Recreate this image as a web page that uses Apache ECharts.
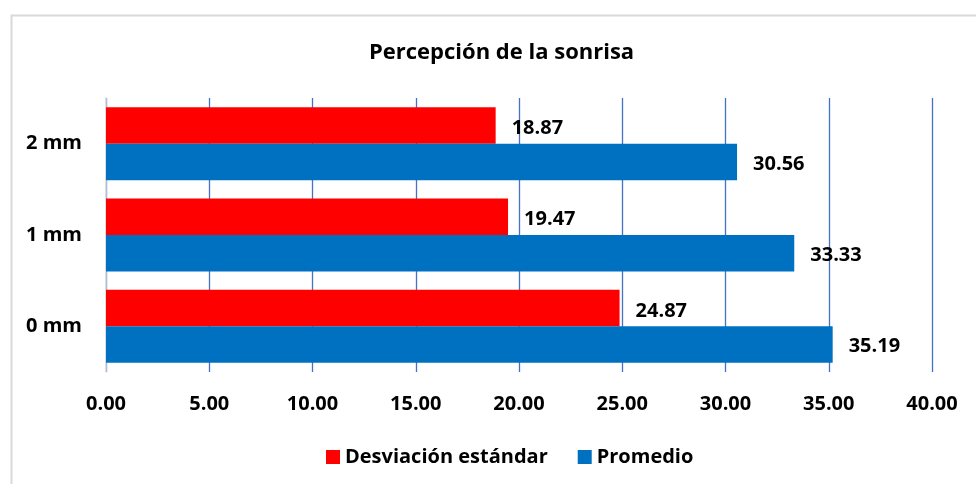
<!DOCTYPE html>
<html><head><meta charset="utf-8">
<script src="https://cdn.jsdelivr.net/npm/echarts@6/dist/echarts.min.js"></script>
<style>html,body{margin:0;padding:0;background:#fff}#c{width:976px;height:484px}</style>
</head><body><div id="c"></div>
<script>
const categories = ['0 mm', '1 mm', '2 mm'];
const desviacion = [24.87, 19.47, 18.87];
const promedio = [35.19, 33.33, 30.56];
const xTicks = [0, 5, 10, 15, 20, 25, 30, 35, 40];
const titleText = 'Percepción de la sonrisa';
const seriesNames = ['Desviación estándar', 'Promedio'];

const FONT = 'Open Sans';
const chart = echarts.init(document.getElementById('c'), null, {renderer: 'canvas'});
chart.setOption({
  animation: false,
  backgroundColor: '#fff',
  graphic: [{
    type: 'rect', left: 9, top: 13, silent: true,
    shape: {x: 0, y: 0, width: 1000, height: 500},
    style: {fill: 'none', stroke: '#d9d9d9', lineWidth: 2}
  }],
  title: {
    text: titleText, left: 364, top: 37,
    textStyle: {fontFamily: FONT, fontWeight: 'bold', fontSize: 22, color: '#000'}
  },
  legend: {
    data: seriesNames, left: 321, top: 442, itemWidth: 14, itemHeight: 14, itemGap: 30,
    icon: 'rect',
    textStyle: {fontFamily: FONT, fontWeight: 'bold', fontSize: 20, color: '#000'}
  },
  grid: {left: 106, right: 44, top: 98, bottom: 112, containLabel: false},
  xAxis: {
    type: 'value', min: xTicks[0], max: xTicks[xTicks.length - 1], interval: 5,
    axisLine: {show: false}, axisTick: {show: false},
    splitLine: {show: true, lineStyle: {color: '#4472c4', width: 1.3}},
    axisLabel: {
      margin: 22, fontFamily: FONT, fontWeight: 'bold', fontSize: 20, color: '#000',
      formatter: v => v.toFixed(2)
    }
  },
  yAxis: {
    type: 'category', data: categories,
    axisLine: {show: true, lineStyle: {color: '#d9d9d9', width: 1.5}},
    axisTick: {show: false},
    axisLabel: {margin: 24, fontFamily: FONT, fontWeight: 'bold', fontSize: 20, color: '#000'}
  },
  series: [
    {
      name: seriesNames[0], type: 'bar', data: desviacion, barGap: '0%', barCategoryGap: '20%',
      itemStyle: {color: '#ff0000'},
      label: {show: true, position: 'right', distance: 16, offset: [0, 3], fontFamily: FONT, fontWeight: 'bold', fontSize: 20, color: '#000',
        formatter: p => p.value.toFixed(2)}
    },
    {
      name: seriesNames[1], type: 'bar', data: promedio, barGap: '0%', barCategoryGap: '20%',
      itemStyle: {color: '#0070c0'},
      label: {show: true, position: 'right', distance: 16, offset: [0, 2], fontFamily: FONT, fontWeight: 'bold', fontSize: 20, color: '#000',
        formatter: p => p.value.toFixed(2)}
    }
  ]
});
</script></body></html>
